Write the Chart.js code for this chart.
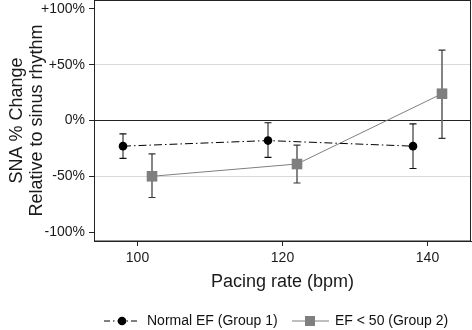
<!DOCTYPE html>
<html>
<head>
<meta charset="utf-8">
<script src="https://cdn.jsdelivr.net/npm/chart.js@4"></script>
<style>
  html, body { margin: 0; padding: 0; background: #fff; }
  #wrap { width: 472px; height: 330px; }
</style>
</head>
<body>
<div id="wrap"><canvas id="chart" width="472" height="330"></canvas></div>
<script>
// pacing rates (bpm) - groups are offset a bit so bars don't overlap
const rates1 = [98, 118, 138];
const rates2 = [102, 122, 142];
// Normal EF (Group 1): mean and error bar ends
const g1Mean = [-23, -18, -23];
const g1Low = [-34, -33, -43];
const g1High = [-12, -2, -3];
// EF < 50 (Group 2)
const g2Mean = [-50, -39, 24];
const g2Low = [-69, -56, -16];
const g2High = [-30, -22, 63];
// axis ticks
const xTicks = [100, 120, 140];
const yTicks = [-100, -50, 0, 50, 100];
const yLabels = ['-100%', '-50%', '0%', '+50%', '+100%'];

const FONT = "'Liberation Sans', Arial, sans-serif";
const GRAY = '#7f7f7f';

function noPad(s) {
    s.paddingTop = 0; s.paddingBottom = 0;
    s.paddingLeft = 0; s.paddingRight = 0;
}

const errorBars = {
    id: 'errorBars',
    beforeDatasetsDraw(chart) {
        const ctx = chart.ctx;
        const xs = chart.scales.x, ys = chart.scales.y;
        function draw(xv, lo, hi, stem, cap, w) {
            for (let i = 0; i < xv.length; i++) {
                const x = xs.getPixelForValue(xv[i]);
                const y1 = ys.getPixelForValue(lo[i]);
                const y2 = ys.getPixelForValue(hi[i]);
                ctx.save();
                ctx.strokeStyle = stem;
                ctx.lineWidth = w;
                ctx.beginPath();
                ctx.moveTo(x, y1); ctx.lineTo(x, y2);
                ctx.stroke();
                ctx.strokeStyle = cap;
                ctx.lineWidth = 1.2;
                ctx.beginPath();
                ctx.moveTo(x - 3.5, y1); ctx.lineTo(x + 3.5, y1);
                ctx.moveTo(x - 3.5, y2); ctx.lineTo(x + 3.5, y2);
                ctx.stroke();
                ctx.restore();
            }
        }
        draw(rates1, g1Low, g1High, '#111', '#111', 1);
        draw(rates2, g2Low, g2High, '#666', '#333', 1.6);
    }
};

// box around plot + custom legend with line style and marker
const frameAndLegend = {
    id: 'frameAndLegend',
    afterDraw(chart) {
        const ctx = chart.ctx;
        const a = chart.chartArea;
        ctx.save();
        ctx.strokeStyle = '#222';
        ctx.lineWidth = 1;
        ctx.strokeRect(a.left + 0.5, a.top + 0.5, a.right - a.left - 1, a.bottom - a.top - 0.5);

        const ly = 321;
        ctx.font = '14px ' + FONT;
        ctx.fillStyle = '#111';
        ctx.textBaseline = 'middle';
        // group 1
        ctx.strokeStyle = '#000';
        ctx.lineWidth = 1;
        ctx.setLineDash([6, 3, 1.5, 3]);
        ctx.beginPath();
        ctx.moveTo(104, ly); ctx.lineTo(140, ly);
        ctx.stroke();
        ctx.setLineDash([]);
        ctx.beginPath();
        ctx.arc(122, ly, 4.3, 0, Math.PI * 2);
        ctx.fillStyle = '#000';
        ctx.fill();
        ctx.fillStyle = '#111';
        ctx.fillText('Normal EF (Group 1)', 147, ly);
        // group 2
        ctx.strokeStyle = GRAY;
        ctx.beginPath();
        ctx.moveTo(292, ly); ctx.lineTo(329, ly);
        ctx.stroke();
        ctx.fillStyle = GRAY;
        ctx.fillRect(305, ly - 5, 10, 10);
        ctx.fillStyle = '#111';
        ctx.fillText('EF < 50 (Group 2)', 335, ly);
        ctx.restore();
    }
};

new Chart(document.getElementById('chart'), {
    type: 'line',
    data: {
        datasets: [
            {
                label: 'Normal EF (Group 1)',
                data: rates1.map((x, i) => ({ x: x, y: g1Mean[i] })),
                borderColor: '#000',
                borderWidth: 1,
                borderDash: [8, 3, 1.5, 3],
                pointStyle: 'circle',
                pointRadius: 4.3,
                pointBackgroundColor: '#000',
                pointBorderWidth: 0
            },
            {
                label: 'EF < 50 (Group 2)',
                data: rates2.map((x, i) => ({ x: x, y: g2Mean[i] })),
                borderColor: GRAY,
                borderWidth: 1,
                pointStyle: 'rect',
                pointRadius: 7.5,
                pointBackgroundColor: GRAY,
                pointBorderWidth: 0
            }
        ]
    },
    options: {
        responsive: false,
        animation: false,
        layout: { autoPadding: false, padding: { top: 0, right: 1, bottom: 27, left: 0 } },
        plugins: {
            legend: { display: false },
            tooltip: { enabled: false }
        },
        scales: {
            x: {
                type: 'linear',
                min: 94,
                max: 146,
                afterBuildTicks: s => { s.ticks = xTicks.map(v => ({ value: v })); },
                afterFit: s => { s.height = 62; noPad(s); },
                grid: { drawOnChartArea: false, drawTicks: true, tickLength: 5, tickColor: '#222' },
                border: { color: '#222' },
                ticks: { color: '#1a1a1a', font: { family: FONT, size: 14 }, padding: 4, maxRotation: 0 },
                title: {
                    display: true,
                    text: 'Pacing rate (bpm)',
                    color: '#1a1a1a',
                    font: { family: FONT, size: 18 },
                    padding: { top: 0, bottom: 10 }
                }
            },
            y: {
                min: -108,
                max: 108,
                afterBuildTicks: s => { s.ticks = yTicks.map(v => ({ value: v })); },
                afterFit: s => { s.width = 94; noPad(s); },
                grid: {
                    color: c => c.tick.value === 0 ? '#222' : (Math.abs(c.tick.value) === 50 ? '#d9d9d9' : 'rgba(0,0,0,0)'),
                    tickColor: '#222',
                    tickLength: 5,
                    lineWidth: 1
                },
                border: { color: '#222' },
                ticks: {
                    color: '#1a1a1a',
                    font: { family: FONT, size: 14 },
                    padding: 4,
                    callback: v => yLabels[yTicks.indexOf(v)]
                },
                title: {
                    display: true,
                    text: ['SNA % Change', 'Relative to sinus rhythm'],
                    color: '#1a1a1a',
                    font: { family: FONT, size: 18, lineHeight: 1.1 },
                    padding: { top: 7, bottom: 0 }
                }
            }
        }
    },
    plugins: [errorBars, frameAndLegend]
});
</script>
</body>
</html>
